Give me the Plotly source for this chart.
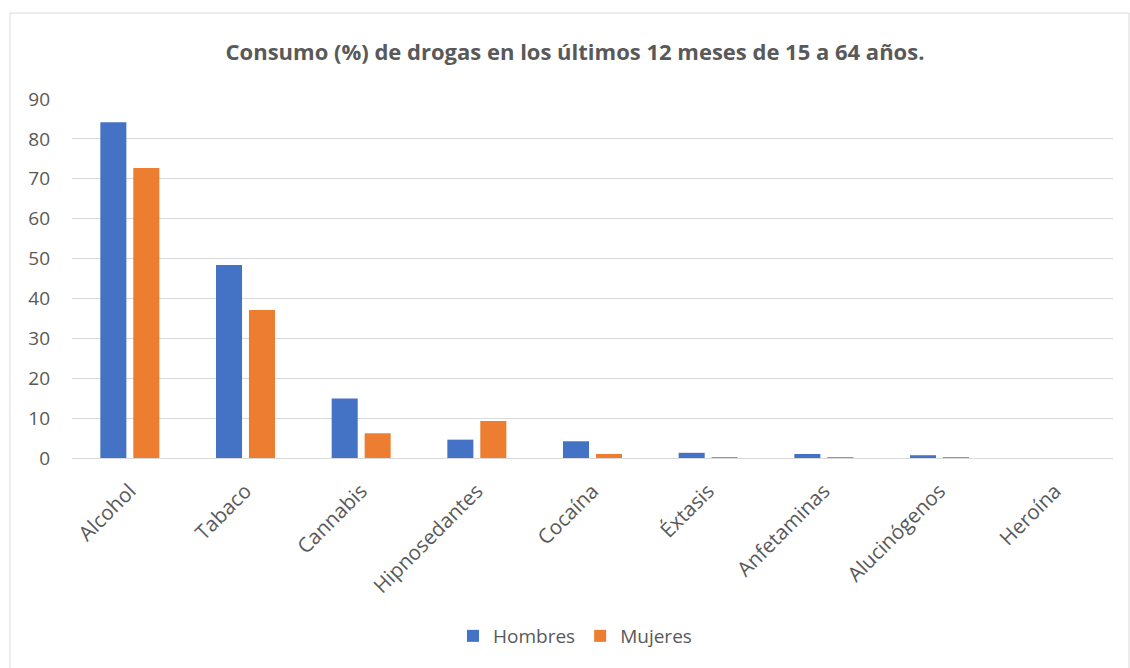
import plotly.graph_objects as go

categorias = ["Alcohol", "Tabaco", "Cannabis", "Hipnosedantes", "Cocaína",
              "Éxtasis", "Anfetaminas", "Alucinógenos", "Heroína"]
hombres = [84.2, 48.4, 14.9, 4.6, 4.2, 1.3, 1.0, 0.7, 0.0]
mujeres = [72.7, 37.1, 6.2, 9.3, 1.0, 0.2, 0.2, 0.2, 0.0]
y_ticks = [0, 10, 20, 30, 40, 50, 60, 70, 80, 90]

FONT = "Open Sans"
GRIS = "#595959"

fig = go.Figure()
fig.add_trace(go.Bar(name="Hombres", x=categorias, y=hombres,
                     marker=dict(color="#4472C4", line=dict(width=0))))
fig.add_trace(go.Bar(name="Mujeres", x=categorias, y=mujeres,
                     marker=dict(color="#ED7D31", line=dict(width=0))))

L, R, T, B = 72, 17, 99, 210
W, H = 1130, 668
pw, ph = W - L - R, H - T - B

fig.update_layout(
    width=W, height=H,
    margin=dict(l=L, r=R, t=T, b=B),
    paper_bgcolor="white", plot_bgcolor="white",
    barmode="group", bargap=0.43, bargroupgap=0.21,
    font=dict(family=FONT, color=GRIS, size=19),
    title=dict(text="<b>Consumo (%) de drogas en los últimos 12 meses de 15 a 64 años.</b>",
               x=575 / W, xref="container", xanchor="center",
               y=1 - 52 / H, yref="container", yanchor="middle",
               font=dict(family=FONT, size=22, color=GRIS)),
    legend=dict(orientation="h", x=575 / W, xref="container", xanchor="center",
                y=1 - 636 / H, yref="container", yanchor="middle",
                font=dict(family=FONT, size=19, color=GRIS),
                itemwidth=30, traceorder="normal"),
    xaxis=dict(tickangle=-45, showline=True, linecolor="#D9D9D9", linewidth=1,
               ticks="", tickfont=dict(family=FONT, size=20.5, color=GRIS),
               ticklabelshift=0, ticklabelstandoff=12),
    yaxis=dict(range=[0, 90], tickvals=y_ticks, showgrid=True, gridcolor="#D9D9D9",
               gridwidth=1, zeroline=False, showline=False, ticks="",
               tickfont=dict(family=FONT, size=19, color=GRIS),
               ticklabelstandoff=21),
    shapes=[dict(type="rect", xref="paper", yref="paper",
                 x0=(10 - L) / pw, x1=(W - 1 - L) / pw,
                 y0=-(H + 5 - T - ph) / ph, y1=1 + (T - 13) / ph,
                 line=dict(color="#D9D9D9", width=1), fillcolor="rgba(0,0,0,0)",
                 layer="below")],
)

fig.write_html("out.html")
